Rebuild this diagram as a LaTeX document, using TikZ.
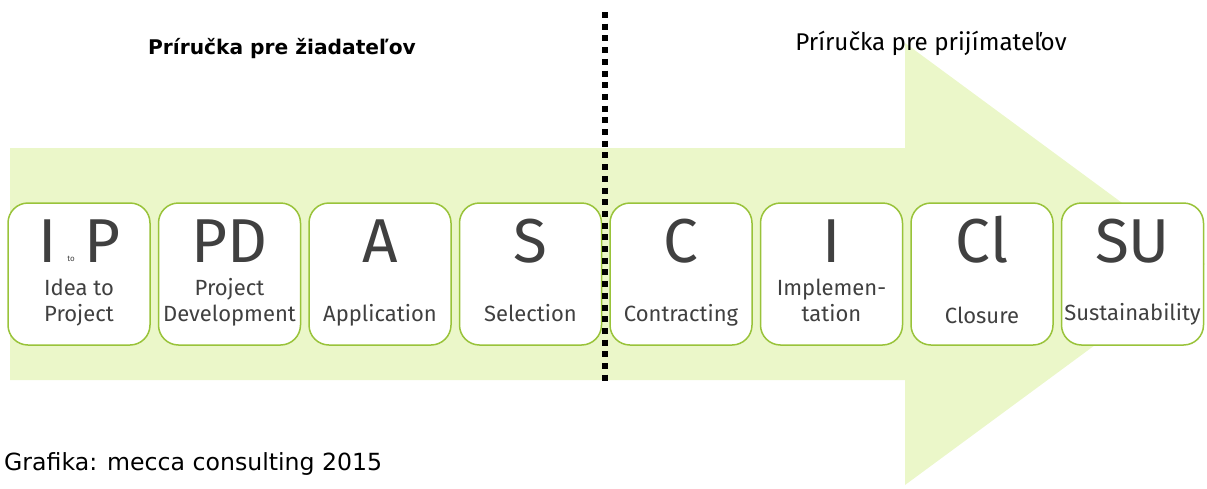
\documentclass[tikz,border=0pt]{standalone}
\usepackage{fontspec}
\setmainfont{Fira Sans}
\newfontfamily\dejavu{DejaVu Sans}
\definecolor{bandgreen}{HTML}{EBF7C9}
\definecolor{boxline}{HTML}{99C33A}
\definecolor{txtgray}{HTML}{404040}
\tikzset{
  phasebox/.style={draw=boxline, line width=1.5pt, fill=white, rounded corners=20pt,
    minimum width=142pt, minimum height=142pt, inner sep=0pt},
  bigletter/.style={text=txtgray, font=\fontsize{62}{62}\selectfont, anchor=base, inner sep=0pt},
  smalllabel/.style={text=txtgray, font=\fontsize{22}{22}\selectfont, anchor=base, inner sep=0pt},
}
\begin{document}
\begin{tikzpicture}[x=1pt,y=-1pt]
\useasboundingbox (0,0) rectangle (1207,488);
% big arrow
\fill[bandgreen] (10,148) -- (905,148) -- (905,43) -- (1205,264) -- (905,485) -- (905,380) -- (10,380) -- cycle;
% headings
\node[font=\dejavu\bfseries\fontsize{20.2}{20.2}\selectfont, anchor=base, inner sep=0pt] (h1) at (282,54) {Príručka pre žiadateľov};
\node[font=\fontsize{24.2}{24.2}\selectfont, anchor=base, inner sep=0pt] (h2) at (931,50) {Príručka pre prijímateľov};
\node[font=\dejavu\fontsize{23.6}{23.6}\selectfont, anchor=base west, inner sep=0pt] (credit) at (4,470) {Grafika: mecca consulting 2015};
% boxes
\foreach \i in {1,...,8}{
  \node[phasebox] (b\i) at ({79+150.5*(\i-1)},274) {};
}
% box 1
\node[bigletter] (t1a) at ([xshift=-31pt]b1.center |- 0,262) {I};
\node[text=txtgray, font=\fontsize{8}{8}\selectfont, anchor=base, inner sep=0pt] (t1b) at ([xshift=-8pt]b1.center |- 0,261) {to};
\node[bigletter] (t1c) at ([xshift=24pt]b1.center |- 0,262) {P};
\node[smalllabel] (l1a) at (b1.center |- 0,295) {Idea to};
\node[smalllabel] (l1b) at (b1.center |- 0,321) {Project};
% box 2
\node[bigletter] (t2) at (b2.center |- 0,262) {PD};
\node[smalllabel] (l2a) at (b2.center |- 0,295) {Project};
\node[smalllabel] (l2b) at (b2.center |- 0,321) {Development};
% box 3
\node[bigletter] (t3) at (b3.center |- 0,262) {A};
\node[smalllabel] (l3) at (b3.center |- 0,321) {Application};
% box 4
\node[bigletter] (t4) at (b4.center |- 0,262) {S};
\node[smalllabel] (l4) at (b4.center |- 0,321) {Selection};
% box 5
\node[bigletter] (t5) at (b5.center |- 0,262) {C};
\node[smalllabel] (l5) at (b5.center |- 0,321) {Contracting};
% box 6
\node[bigletter] (t6) at (b6.center |- 0,262) {I};
\node[smalllabel] (l6a) at (b6.center |- 0,295) {Implemen-};
\node[smalllabel] (l6b) at (b6.center |- 0,321) {tation};
% box 7
\node[bigletter] (t7) at (b7.center |- 0,262) {Cl};
\node[smalllabel] (l7) at (b7.center |- 0,323) {Closure};
% box 8
\node[bigletter] (t8) at (b8.center |- 0,262) {SU};
\node[smalllabel] (l8) at (b8.center |- 0,320) {Sustainability};
% dotted divider
\coordinate (dtop) at (605,12);
\coordinate (dbot) at (605,381);
\draw[line width=6pt, dash pattern=on 6pt off 5.7pt] (dtop) -- (dbot);
\end{tikzpicture}
\end{document}
